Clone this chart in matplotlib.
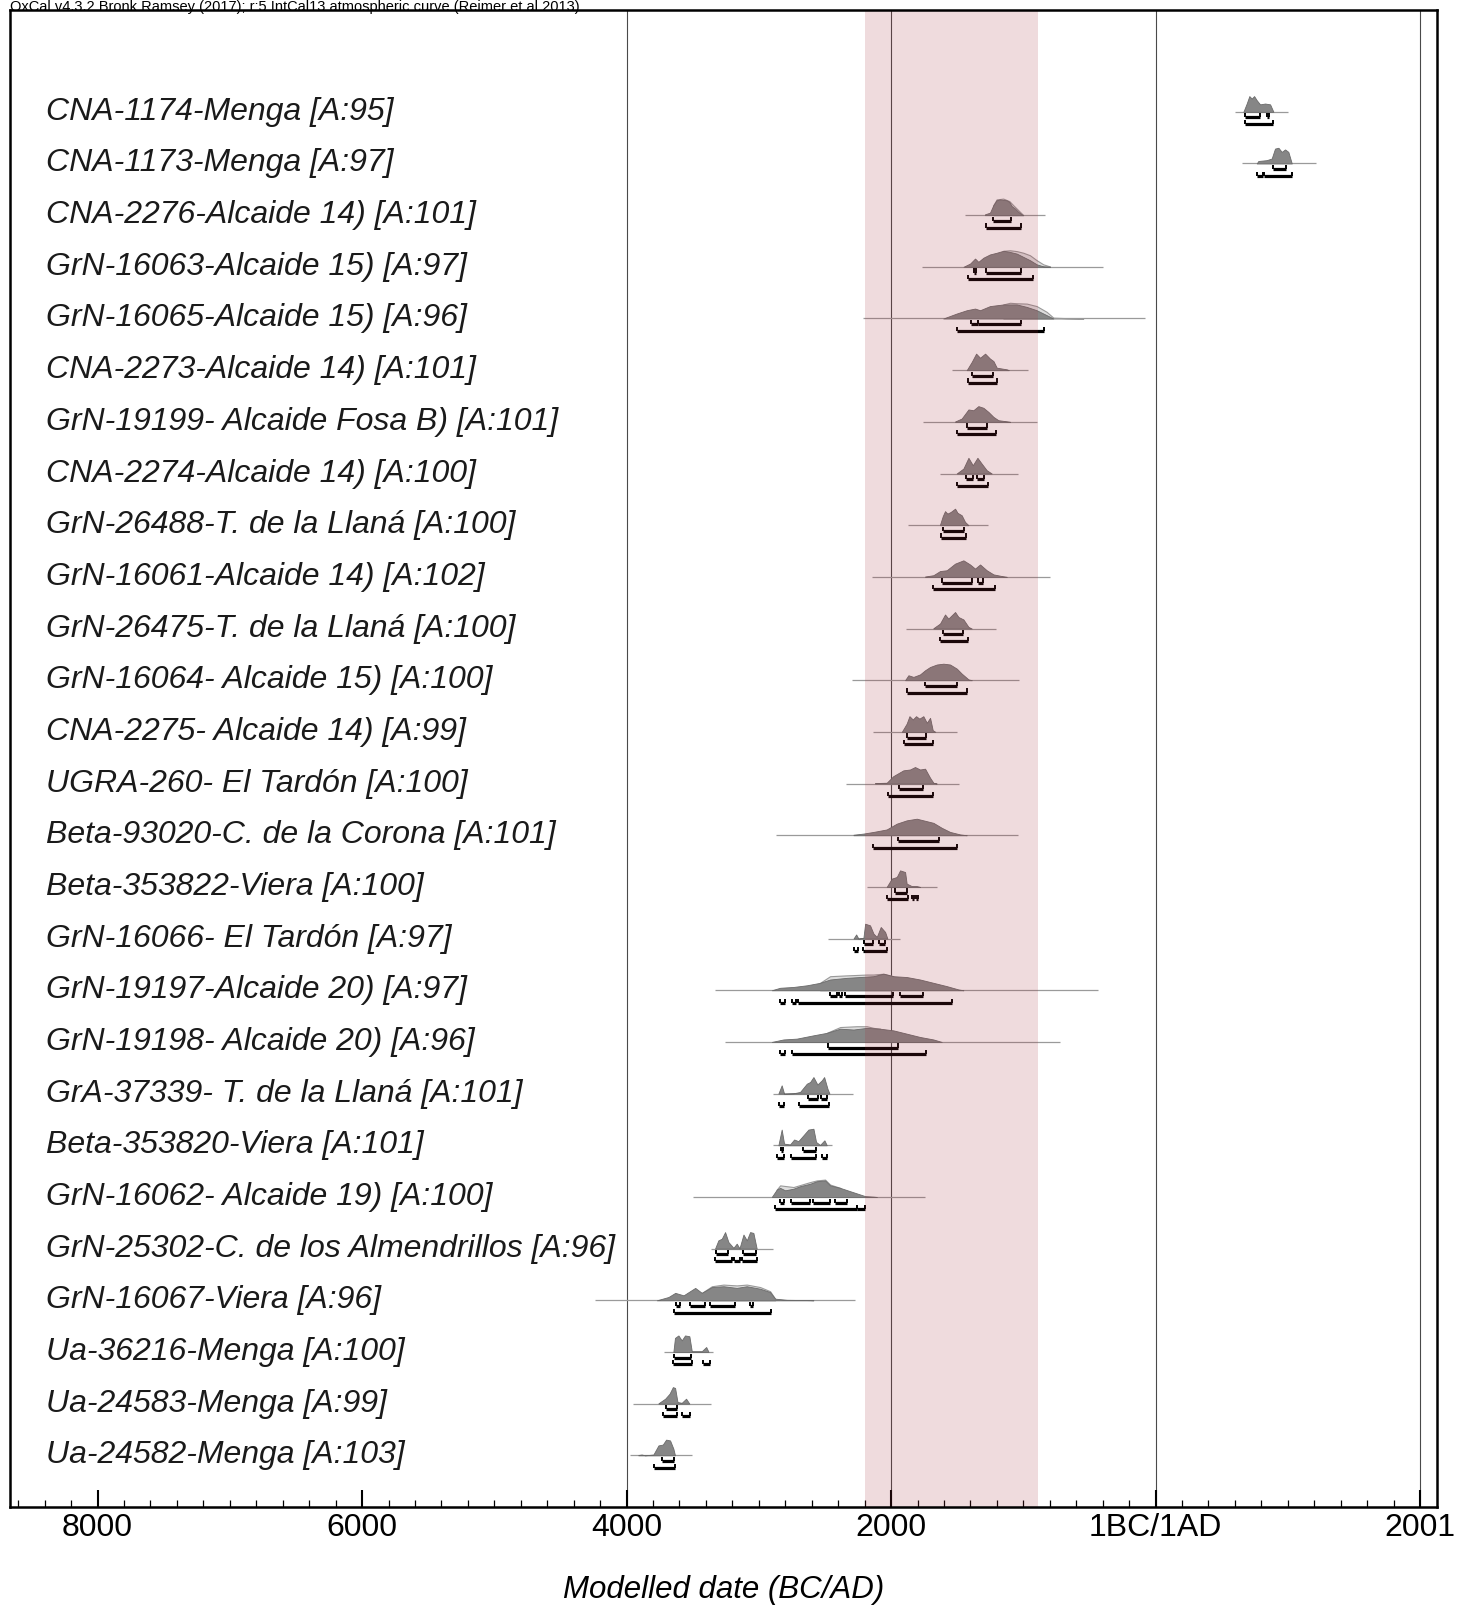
import numpy as np
import matplotlib
matplotlib.use('Agg')
import matplotlib.pyplot as plt

plt.rcParams['font.family'] = ['Liberation Sans', 'DejaVu Sans']

# sample labels, top to bottom
labels = ['CNA-1174-Menga [A:95]', 'CNA-1173-Menga [A:97]',
          'CNA-2276-Alcaide 14) [A:101]', 'GrN-16063-Alcaide 15) [A:97]',
          'GrN-16065-Alcaide 15) [A:96]', 'CNA-2273-Alcaide 14) [A:101]',
          'GrN-19199- Alcaide Fosa B) [A:101]', 'CNA-2274-Alcaide 14) [A:100]',
          'GrN-26488-T. de la Llaná [A:100]', 'GrN-16061-Alcaide 14) [A:102]',
          'GrN-26475-T. de la Llaná [A:100]', 'GrN-16064- Alcaide 15) [A:100]',
          'CNA-2275- Alcaide 14) [A:99]', 'UGRA-260- El Tardón [A:100]',
          'Beta-93020-C. de la Corona [A:101]', 'Beta-353822-Viera [A:100]',
          'GrN-16066- El Tardón [A:97]', 'GrN-19197-Alcaide 20) [A:97]',
          'GrN-19198- Alcaide 20) [A:96]', 'GrA-37339- T. de la Llaná [A:101]',
          'Beta-353820-Viera [A:101]', 'GrN-16062- Alcaide 19) [A:100]',
          'GrN-25302-C. de los Almendrillos [A:96]', 'GrN-16067-Viera [A:96]',
          'Ua-36216-Menga [A:100]', 'Ua-24583-Menga [A:99]', 'Ua-24582-Menga [A:103]']

# posterior density outlines (year BC negative, relative height)
post_years = [
    [664, 689, 709, 727, 745, 765, 790, 828, 866, 891],
    [765, 777, 840, 878, 903, 929, 954, 979, 1004, 1030],
    [-1290, -1252, -1227, -1202, -1177, -1152, -1127, -1106, -1088, -1063, -1038, -1013, -1000],
    [-1453, -1402, -1365, -1340, -1302, -1252, -1202, -1151, -1101, -1050, -1000, -950, -899, -849, -798],
    [-1605, -1504, -1428, -1365, -1327, -1252, -1151, -1050, -974, -899, -823, -773],
    [-1428, -1390, -1357, -1327, -1289, -1252, -1226, -1201, -1125, -1110],
    [-1516, -1466, -1415, -1378, -1340, -1302, -1264, -1226, -1189, -1125, -1100],
    [-1504, -1453, -1415, -1382, -1347, -1315, -1277, -1239],
    [-1629, -1609, -1592, -1574, -1549, -1516, -1498, -1466, -1441, -1415],
    [-1743, -1680, -1630, -1579, -1516, -1453, -1403, -1365, -1327, -1277, -1226, -1163, -1125],
    [-1680, -1630, -1592, -1567, -1516, -1491, -1453, -1415, -1390],
    [-1894, -1869, -1831, -1781, -1743, -1705, -1654, -1604, -1554, -1503, -1466, -1415, -1390],
    [-1919, -1882, -1861, -1836, -1811, -1786, -1756, -1730, -1705, -1685, -1665],
    [-2121, -2033, -1983, -1907, -1857, -1819, -1781, -1743, -1705, -1680, -1655],
    [-2284, -2209, -2133, -2033, -1957, -1882, -1806, -1730, -1680, -1617, -1554, -1478, -1428],
    [-2033, -1995, -1957, -1932, -1894, -1882, -1844, -1806, -1781],
    [-2284, -2264, -2247, -2209, -2196, -2159, -2133, -2108, -2078, -2045, -2028],
    [-2902, -2839, -2738, -2637, -2537, -2461, -2335, -2234, -2133, -2058, -1983, -1882, -1781, -1680, -1579, -1491, -1453],
    [-2902, -2814, -2713, -2587, -2486, -2385, -2284, -2184, -2083, -1983, -1882, -1781, -1680, -1617],
    [-2852, -2827, -2809, -2738, -2688, -2637, -2612, -2587, -2557, -2524, -2506, -2481, -2466],
    [-2852, -2827, -2809, -2764, -2733, -2701, -2663, -2625, -2587, -2567, -2537, -2504, -2486],
    [-2902, -2864, -2839, -2801, -2738, -2688, -2612, -2562, -2499, -2461, -2385, -2310, -2234, -2196, -2133, -2108],
    [-3331, -3306, -3280, -3255, -3230, -3192, -3167, -3146, -3116, -3091, -3066, -3041, -3016],
    [-3771, -3683, -3632, -3569, -3481, -3431, -3355, -3267, -3167, -3091, -2990, -2915, -2877, -2789, -2612, -2587],
    [-3646, -3634, -3608, -3583, -3558, -3525, -3507, -3431, -3398, -3380],
    [-3759, -3708, -3675, -3650, -3633, -3615, -3583, -3550, -3525],
    [-3911, -3886, -3860, -3797, -3759, -3726, -3701, -3671, -3646, -3634],
]
post_vals = [
    [0, 0.5, 0.95, 0.8, 0.95, 0.7, 0.45, 0.5, 0.45, 0],
    [0, 0.15, 0.2, 0.3, 0.9, 0.95, 0.7, 0.85, 0.7, 0],
    [0.05, 0.15, 0.6, 0.9, 0.95, 0.92, 0.9, 0.8, 0.55, 0.4, 0.2, 0.05, 0],
    [0, 0.2, 0.5, 0.3, 0.55, 0.75, 0.85, 0.97, 0.9, 0.8, 0.6, 0.4, 0.15, 0.03, 0],
    [0, 0.3, 0.5, 0.6, 0.5, 0.75, 0.85, 0.85, 0.7, 0.5, 0.2, 0],
    [0, 0.5, 1.0, 0.75, 1.0, 0.7, 0.55, 0.15, 0.05, 0],
    [0.02, 0.2, 0.75, 0.7, 0.95, 0.85, 0.6, 0.3, 0.1, 0.03, 0],
    [0, 0.3, 0.95, 0.5, 0.95, 0.6, 0.2, 0],
    [0.05, 0.55, 0.85, 0.7, 0.8, 1.0, 0.75, 0.6, 0.2, 0],
    [0.02, 0.1, 0.35, 0.4, 0.8, 1.0, 0.75, 0.5, 0.75, 0.4, 0.15, 0.05, 0],
    [0.02, 0.3, 0.85, 0.6, 1.0, 0.7, 0.55, 0.1, 0],
    [0, 0.3, 0.2, 0.35, 0.6, 0.8, 0.95, 1.0, 0.95, 0.7, 0.4, 0.05, 0],
    [0, 0.5, 0.95, 0.75, 0.95, 0.8, 0.95, 0.55, 0.85, 0.1, 0],
    [0.03, 0.05, 0.45, 0.8, 0.85, 1.0, 0.85, 0.9, 0.35, 0.05, 0],
    [0.03, 0.1, 0.2, 0.35, 0.7, 0.9, 1.0, 0.85, 0.75, 0.45, 0.2, 0.05, 0],
    [0, 0.5, 0.6, 1.0, 0.9, 0.2, 0.05, 0.05, 0],
    [0, 0.25, 0, 0.05, 0.9, 0.8, 0.3, 0.1, 0.7, 0.4, 0],
    [0, 0.15, 0.2, 0.3, 0.45, 0.65, 0.75, 0.8, 0.85, 1.0, 0.85, 0.8, 0.65, 0.45, 0.25, 0.05, 0],
    [0, 0.15, 0.2, 0.4, 0.55, 0.8, 0.75, 0.85, 0.8, 0.7, 0.5, 0.3, 0.15, 0],
    [0, 0.5, 0, 0.02, 0.1, 0.6, 0.7, 1.0, 0.55, 0.8, 1.0, 0.3, 0],
    [0, 0.95, 0.1, 0.05, 0.35, 0.25, 0.6, 0.95, 1.0, 0.2, 0.02, 0.3, 0],
    [0, 0.45, 0.55, 0.4, 0.5, 0.65, 0.8, 0.95, 1.0, 0.7, 0.55, 0.35, 0.15, 0.05, 0.02, 0],
    [0, 0.5, 0.6, 1.0, 0.4, 0.05, 0.3, 0.02, 0.85, 0.5, 1.0, 0.95, 0],
    [0, 0.2, 0.45, 0.3, 0.75, 0.45, 0.8, 0.85, 0.75, 0.85, 0.7, 0.5, 0.1, 0.03, 0.01, 0],
    [0, 0.85, 1.0, 0.7, 1.0, 0.95, 0.05, 0.05, 0.3, 0],
    [0.02, 0.3, 0.6, 1.0, 0.95, 0.1, 0.05, 0.3, 0],
    [0.02, 0.05, 0, 0.05, 0.6, 0.65, 0.95, 0.9, 0.4, 0],
]

# unmodelled (prior) outlines, only where they show
prior_rows = [2, 3, 4, 17, 18, 21, 23]
prior_years = [
    [-1227, -1202, -1152, -1106, -1076, -1038, -1000],
    [-1151, -1101, -1050, -1000, -950, -899, -849, -798],
    [-1151, -1101, -1050, -974, -899, -823, -773, -672, -546],
    [-2537, -2461, -2335, -2184, -2133, -2058, -1983],
    [-2486, -2385, -2259, -2184, -2133, -2083],
    [-2864, -2839, -2738, -2612, -2562, -2499, -2461, -2385],
    [-3431, -3355, -3267, -3167, -3091, -2990, -2915, -2877],
]
prior_vals = [
    [0.6, 0.95, 1.0, 0.85, 0.6, 0.3, 0],
    [0.97, 1.0, 0.95, 0.85, 0.7, 0.4, 0.15, 0.02],
    [0.85, 0.95, 0.92, 0.9, 0.75, 0.4, 0.05, 0.02, 0],
    [0.45, 0.85, 0.9, 0.95, 0.95, 1.0, 0.85],
    [0.55, 0.9, 0.95, 0.95, 0.85, 0.8],
    [0.45, 0.7, 0.6, 0.9, 1.0, 1.05, 0.75, 0.55],
    [0.45, 0.85, 0.95, 0.9, 0.95, 0.8, 0.55, 0.1],
]

# thin horizontal line under each distribution
line_span = [(601, 1004), (651, 1211), (-1440, -836), (-1768, -395), (-2209, -79),
             (-1541, -962), (-1756, -900), (-1630, -1037), (-1869, -1264), (-2146, -797),
             (-1889, -1206), (-2297, -1030), (-2138, -1503), (-2340, -1483), (-2869, -1037),
             (-2179, -1655), (-2474, -1932), (-3332, -433), (-3256, -723), (-2894, -2285),
             (-2894, -2448), (-3495, -1743), (-3363, -2894), (-4238, -2272), (-3716, -3348),
             (-3953, -3363), (-3973, -3507)]

# 68.2% and 95.4% ranges
r68 = [[(676, 790), (841, 861)], [(886, 987)], [(-1232, -1096)],
       [(-1372, -1360), (-1282, -1020)], [(-1395, -1345), (-1340, -1020)],
       [(-1390, -1226)], [(-1428, -1277)], [(-1433, -1382), (-1352, -1297)],
       [(-1609, -1448)], [(-1612, -1390), (-1340, -1302)], [(-1609, -1453)],
       [(-1743, -1503)], [(-1882, -1736)], [(-1937, -1760)], [(-1945, -1635)],
       [(-1970, -1882)], [(-2204, -2133), (-2088, -2045)],
       [(-2461, -2410), (-2390, -2373), (-2348, -1983), (-1932, -1761)],
       [(-2478, -1945)], [(-2630, -2549), (-2532, -2481)],
       [(-2834, -2814), (-2668, -2567)],
       [(-2839, -2806), (-2756, -2612), (-2587, -2461), (-2423, -2335)],
       [(-3323, -3230), (-3121, -3020)],
       [(-3624, -3594), (-3523, -3405), (-3372, -3178), (-3066, -3045)],
       [(-3639, -3512)], [(-3701, -3620)], [(-3734, -3641)]]
r95 = [[(676, 886)], [(770, 815), (820, 1030)], [(-1283, -1021)], [(-1415, -924)],
       [(-1504, -844)], [(-1420, -1201)], [(-1498, -1206)], [(-1498, -1264)],
       [(-1622, -1433)], [(-1685, -1214)], [(-1630, -1415)], [(-1882, -1428)],
       [(-1899, -1680)], [(-2025, -1685)], [(-2133, -1503)],
       [(-2028, -1874), (-1844, -1826), (-1811, -1794)],
       [(-2277, -2247), (-2214, -2028)],
       [(-2839, -2801), (-2751, -2718), (-2700, -1541)],
       [(-2839, -2801), (-2751, -1736)], [(-2844, -2809), (-2693, -2466)],
       [(-2860, -2809), (-2756, -2567), (-2519, -2486)],
       [(-2877, -2259), (-2254, -2196)],
       [(-3331, -3205), (-3188, -3146), (-3129, -3011)],
       [(-3640, -2909)], [(-3646, -3507), (-3423, -3367)],
       [(-3721, -3620), (-3583, -3520)], [(-3792, -3634)]]

band = (-2200, -890)
grid_years = [-4000, -2000, 0, 2000]
tick_pos = [-8000, -6000, -4000, -2000, 0, 2000]
tick_labels = ['8000', '6000', '4000', '2000', '1BC/1AD', '2001']

H = 0.32      # peak height in row units
OFF68 = 0.11
OFF95 = 0.24

fig = plt.figure(figsize=(14.7, 16.07), dpi=100)
ax = fig.add_axes([10 / 1470, 1 - 1507 / 1607, 1427 / 1470, 1497 / 1607])
ax.set_xlim(-8662, 2128)
ax.set_ylim(27.0, -1.97)

for gx in grid_years:
    ax.axvline(gx, color='#4a4a4a', lw=0.8, zorder=1)

def bars(ranges, y):
    for a, b in ranges:
        ax.hlines(y, a, b, color='black', lw=2.3, zorder=4)
        ax.vlines([a, b], y - 0.08, y, color='black', lw=1.4, zorder=4)

for i, lab in enumerate(labels):
    ax.text(-8390, i, lab, fontsize=23, style='italic', va='center', ha='left',
            color='#1a1a1a', zorder=6)
    ax.hlines(i, line_span[i][0], line_span[i][1], color='#9a9a9a', lw=0.9, zorder=2)
    if i in prior_rows:
        k = prior_rows.index(i)
        py = np.array(prior_years[k])
        pv = np.array(prior_vals[k])
        ax.fill_between(py, i, i - pv * H, color='#dedede', edgecolor='#9a9a9a',
                        lw=0.8, zorder=2)
    yy = np.array(post_years[i])
    vv = np.array(post_vals[i])
    ax.fill_between(yy, i, i - vv * H, color='#868686', edgecolor='#6a6a6a',
                    lw=0.6, zorder=3)
    bars(r68[i], i + OFF68)
    bars(r95[i], i + OFF95)

ax.axvspan(band[0], band[1], color='#a52a38', alpha=0.17, lw=0, zorder=5)

ax.set_yticks([])
ax.set_xticks(tick_pos)
ax.set_xticklabels(tick_labels, fontsize=23)
ax.set_xticks(np.arange(-8600, 2101, 200), minor=True)
ax.tick_params(axis='x', which='major', direction='in', length=12, width=1.5, pad=4)
ax.tick_params(axis='x', which='minor', direction='in', length=5, width=0.9)
for s in ax.spines.values():
    s.set_linewidth(1.8)
    s.set_zorder(7)

fig.text(0.492, 1 - 1590 / 1607, 'Modelled date (BC/AD)', fontsize=22.5, style='italic',
         ha='center', va='center')
fig.text(0.007, 1.0,
         'OxCal v4.3.2 Bronk Ramsey (2017); r:5 IntCal13 atmospheric curve (Reimer et al 2013)',
         fontsize=10.5, ha='left', va='top')

fig.savefig('out.png', dpi=100)
